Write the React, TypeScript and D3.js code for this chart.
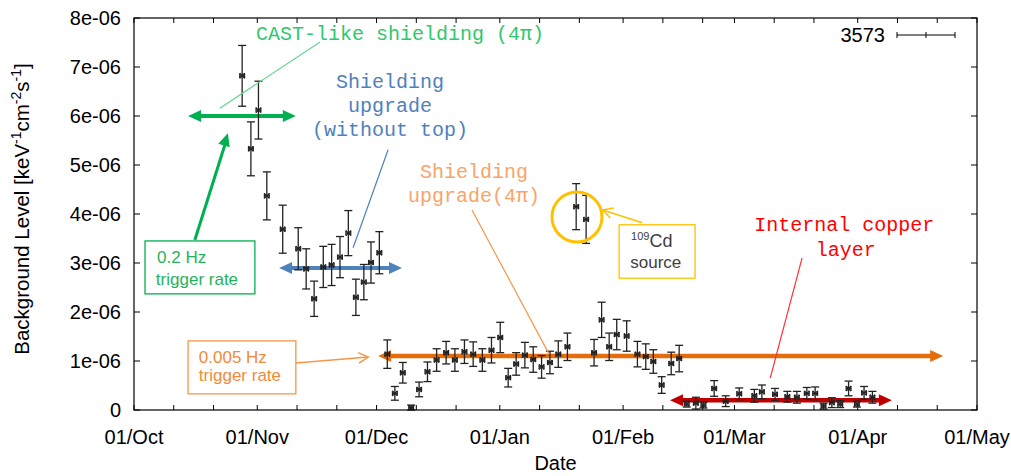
import React from 'react';
import * as d3 from 'd3';

// ---- Data (days since 01/Oct, background level in units of 1e-6, error in 1e-6) ----
const DAYS = [
  27.2, 29.4, 31.3, 33.4, 37.4, 41.3, 43.3, 45.3, 47.6, 49.7, 51.8, 53.9, 55.8, 57.8, 59.6, 61.7,
  63.7, 65.6, 67.6, 69.7, 71.7, 73.8, 76.1, 78.5, 80.7, 83.1, 85.3, 87.6, 89.9, 92.1, 94.1, 96.1,
  98.3, 100.4, 102.5, 104.6, 106.7, 109.0, 111.2, 113.7, 115.7, 117.6, 119.5, 121.4, 123.9, 126.6,
  128.7, 130.6, 132.7, 135.1, 137.1,
  139.0, 141.3, 143.2, 145.9, 148.8, 152.2, 156.0, 157.9, 161.2, 164.3, 166.7, 169.2, 171.3, 173.4,
  175.5, 177.6, 179.7, 181.8, 183.6, 185.7,
];
const VALUES = [
  6.82, 5.33, 6.12, 4.37, 3.69, 3.29, 2.88, 2.27, 2.92, 2.96, 3.12, 3.61, 2.30, 2.61, 3.01, 3.21,
  1.14, 0.34, 0.76, 0.05, 0.42, 0.78, 1.02, 1.17, 1.02, 1.19, 1.14, 1.02, 1.22, 1.48, 0.66, 0.94,
  1.12, 1.03, 0.88, 0.97, 1.14, 1.29, 4.15, 3.89, 1.17, 1.84, 1.29, 1.54, 1.51, 1.14,
  1.09, 0.99, 0.51, 0.95, 1.05,
  0.12, 0.14, 0.10, 0.44, 0.18, 0.33, 0.29, 0.37, 0.32, 0.27, 0.26, 0.34, 0.34, 0.08,
  0.15, 0.12, 0.44, 0.12, 0.35, 0.26,
];
const ERRORS = [
  0.62, 0.55, 0.59, 0.49, 0.49, 0.43, 0.41, 0.36, 0.42, 0.42, 0.42, 0.46, 0.37, 0.36, 0.42, 0.43,
  0.29, 0.14, 0.21, 0.05, 0.15, 0.20, 0.23, 0.23, 0.23, 0.24, 0.25, 0.23, 0.26, 0.31, 0.19, 0.23,
  0.26, 0.26, 0.23, 0.23, 0.27, 0.28, 0.47, 0.49, 0.27, 0.36, 0.28, 0.31, 0.31, 0.26,
  0.26, 0.24, 0.17, 0.23, 0.27,
  0.06, 0.12, 0.06, 0.16, 0.11, 0.12, 0.13, 0.14, 0.12, 0.11, 0.12, 0.12, 0.13, 0.06,
  0.10, 0.07, 0.15, 0.06, 0.13, 0.12,
];
const X_ERR_DAYS = 0.6;
const UNIT = 1e-6;
const Y_TICKS = [0, 1, 2, 3, 4, 5, 6, 7, 8];
const Y_TICK_LABELS = ['0', '1e-06', '2e-06', '3e-06', '4e-06', '5e-06', '6e-06', '7e-06', '8e-06'];
const MINOR_DAYS_OF_MONTH = [11, 21];
const LEGEND_LABEL = '3573';
const X_TITLE = 'Date';

// ---- Layout ----
const W = 1011, H = 476;
const PL = 134, PR = 977, PT = 18, PB = 410;
const START = new Date(Date.UTC(2012, 9, 1));
const END = new Date(Date.UTC(2013, 4, 1));

const x = d3.scaleUtc().domain([START, END]).range([PL, PR]);
const y = d3.scaleLinear().domain([0, 8 * UNIT]).range([PB, PT]);
const dd = (d: number) => new Date(START.getTime() + d * 864e5);
const X = (d: number) => x(dd(d));
const Y = (v: number) => y(v * UNIT);

const SANS = 'Liberation Sans, Arial, sans-serif';
const MONO = 'Liberation Mono, Courier New, monospace';

function head(x1: number, y1: number, x2: number, y2: number, len: number, hw: number) {
  const a = Math.atan2(y2 - y1, x2 - x1);
  const bx = x2 - len * Math.cos(a), by = y2 - len * Math.sin(a);
  const px = -Math.sin(a) * hw, py = Math.cos(a) * hw;
  return `${x2},${y2} ${bx + px},${by + py} ${bx - px},${by - py}`;
}

function DoubleArrow({ d1, d2, v, color, w = 4 }: any) {
  const x1 = X(d1), x2 = X(d2), yy = Y(v);
  const len = 13, hw = 6;
  return (
    <g>
      <line x1={x1 + len - 2} y1={yy} x2={x2 - len + 2} y2={yy} stroke={color} strokeWidth={w} />
      <polygon points={head(x2, yy, x1, yy, len, hw)} fill={color} />
      <polygon points={head(x1, yy, x2, yy, len, hw)} fill={color} />
    </g>
  );
}

function OpenArrow({ a, b, color, w = 1.5 }: any) {
  const x1 = X(a[0]), y1 = Y(a[1]), x2 = X(b[0]), y2 = Y(b[1]);
  const ang = Math.atan2(y2 - y1, x2 - x1);
  const L = 11, s = 0.5;
  const p1 = [x2 - L * Math.cos(ang - s), y2 - L * Math.sin(ang - s)];
  const p2 = [x2 - L * Math.cos(ang + s), y2 - L * Math.sin(ang + s)];
  return (
    <g stroke={color} strokeWidth={w} fill="none">
      <line x1={x1} y1={y1} x2={x2} y2={y2} />
      <polyline points={`${p1[0]},${p1[1]} ${x2},${y2} ${p2[0]},${p2[1]}`} />
    </g>
  );
}

function Box({ a, b, color }: any) {
  const x1 = X(a[0]), y1 = Y(a[1]), x2 = X(b[0]), y2 = Y(b[1]);
  return <rect x={x1} y={y1} width={x2 - x1} height={y2 - y1} fill="white" stroke={color} strokeWidth={1.3} />;
}

export default function App() {
  const months = d3.utcMonth.range(START, d3.utcDay.offset(END, 1));
  const minor: Date[] = [];
  d3.utcMonth.range(START, END).forEach((m) => {
    MINOR_DAYS_OF_MONTH.forEach((k) => minor.push(new Date(Date.UTC(m.getUTCFullYear(), m.getUTCMonth(), k))));
  });
  const fmt = d3.utcFormat('%d/%b');
  const tl = 5;

  const pts = DAYS.map((d, i) => ({ d, v: VALUES[i], e: ERRORS[i] }));

  return (
    <svg width={W} height={H} style={{ position: 'absolute', left: 0, top: 0, background: 'white' }}
      fontFamily={SANS}>
      <rect x={0} y={0} width={W} height={H} fill="white" />

      {/* ticks */}
      <g stroke="#000" strokeWidth={1}>
        {Y_TICKS.map((t) => (
          <g key={'y' + t}>
            <line x1={PL} x2={PL + 6} y1={Y(t)} y2={Y(t)} />
            <line x1={PR} x2={PR - 6} y1={Y(t)} y2={Y(t)} />
          </g>
        ))}
        {[...months, ...minor].map((m, i) => (
          <g key={'x' + i}>
            <line x1={x(m)} x2={x(m)} y1={PB} y2={PB - tl} />
            <line x1={x(m)} x2={x(m)} y1={PT} y2={PT + tl} />
          </g>
        ))}
      </g>

      {/* tick labels */}
      <g fontSize={20} fill="#000">
        {Y_TICKS.map((t, i) => (
          <text key={'yl' + t} x={PL - 13} y={Y(t) + 7} textAnchor="end">{Y_TICK_LABELS[i]}</text>
        ))}
        {months.map((m, i) => (
          <text key={'xl' + i} x={x(m)} y={444} textAnchor="middle">{fmt(m)}</text>
        ))}
      </g>
      <text x={(PL + PR) / 2} y={470} textAnchor="middle" fontSize={20}>{X_TITLE}</text>
      <text transform={`translate(29,209) rotate(-90)`} textAnchor="middle" fontSize={20.5}>
        Background Level [keV<tspan dy={-8} fontSize={14}>-1</tspan>
        <tspan dy={8}>cm</tspan><tspan dy={-8} fontSize={14}>-2</tspan>
        <tspan dy={8}>s</tspan><tspan dy={-8} fontSize={14}>-1</tspan><tspan dy={8}>]</tspan>
      </text>

      {/* legend */}
      <text x={885} y={42} textAnchor="end" fontSize={20}>{LEGEND_LABEL}</text>
      <g stroke="#000" strokeWidth={1}>
        <line x1={897} x2={955} y1={35} y2={35} />
        <line x1={897} x2={897} y1={32} y2={38} />
        <line x1={955} x2={955} y1={32} y2={38} />
        <line x1={926} x2={926} y1={32} y2={38} />
      </g>

      {/* annotations behind */}
      <DoubleArrow d1={61.4} d2={203.5} v={1.1} color="#e46c0a" w={4.5} />
      <DoubleArrow d1={134.8} d2={190.6} v={0.2} color="#c00000" w={4.5} />
      <DoubleArrow d1={36.5} d2={67.4} v={2.9} color="#4f81bd" w={4} />
      <DoubleArrow d1={13.6} d2={40.7} v={6.0} color="#00b050" w={4} />

      {/* data */}
      <g stroke="#222" strokeWidth={1.3} fill="none">
        {pts.map((p, i) => {
          const cx = X(p.d), cy = Y(p.v);
          const yt = Y(p.v + p.e), yb = Y(Math.max(0, p.v - p.e));
          const xl = X(p.d - X_ERR_DAYS), xr = X(p.d + X_ERR_DAYS);
          return (
            <g key={i}>
              <line x1={cx} x2={cx} y1={yt} y2={yb} />
              <line x1={cx - 4} x2={cx + 4} y1={yt} y2={yt} />
              <line x1={cx - 4} x2={cx + 4} y1={yb} y2={yb} />
              <line x1={xl} x2={xr} y1={cy} y2={cy} />
              <line x1={xl} x2={xl} y1={cy - 2.5} y2={cy + 2.5} />
              <line x1={xr} x2={xr} y1={cy - 2.5} y2={cy + 2.5} />
              <path d={`M${cx - 2.5},${cy - 2.5}L${cx + 2.5},${cy + 2.5}M${cx - 2.5},${cy + 2.5}L${cx + 2.5},${cy - 2.5}`} />
            </g>
          );
        })}
      </g>

      {/* green annotations */}
      <text x={X(66.9)} y={Y(7.55)} textAnchor="middle" fontFamily={MONO} fontSize={20} fill="#2ec86e">CAST-like shielding (4π)</text>
      <line x1={X(21.6)} y1={Y(6.16)} x2={X(46.8)} y2={Y(7.51)} stroke="#5fd68f" strokeWidth={1.2} />
      <line x1={X(15.3)} y1={Y(3.47)} x2={X(23.2)} y2={Y(5.5)} stroke="#00b050" strokeWidth={3} />
      <polygon points={head(X(15.3), Y(3.47), X(23.6), Y(5.65), 13, 6)} fill="#00b050" />
      <Box a={[2.77, 3.45]} b={[30.4, 2.37]} color="#00b050" />
      <g fontSize={17} fill="#1fb35c">
        <text x={X(5.8)} y={Y(3.0)}>0.2 Hz</text>
        <text x={X(5.5)} y={Y(2.55)}>trigger rate</text>
      </g>

      {/* blue annotations */}
      <g fontFamily={MONO} fontSize={20} fill="#4f81bd" textAnchor="middle">
        <text x={X(64.4)} y={Y(6.57)}>Shielding</text>
        <text x={X(64.4)} y={Y(6.08)}>upgrade</text>
        <text x={X(64.4)} y={Y(5.59)}>(without top)</text>
      </g>
      <line x1={X(55.1)} y1={Y(3.31)} x2={X(63.9)} y2={Y(5.31)} stroke="#4f81bd" strokeWidth={1.2} />

      {/* orange annotations */}
      <g fontFamily={MONO} fontSize={20} fill="#f9a46a" textAnchor="middle">
        <text x={X(85.5)} y={Y(4.73)}>Shielding</text>
        <text x={X(85.5)} y={Y(4.24)}>upgrade(4π)</text>
      </g>
      <line x1={X(85.0)} y1={Y(4.08)} x2={X(104.4)} y2={Y(1.14)} stroke="#f79646" strokeWidth={1.2} />
      <OpenArrow a={[40.7, 0.96]} b={[58.9, 1.08]} color="#f79646" w={1.5} />
      <Box a={[13.6, 1.41]} b={[40.7, 0.33]} color="#f79646" />
      <g fontSize={17} fill="#f08a3c">
        <text x={X(16.3)} y={Y(0.96)}>0.005 Hz</text>
        <text x={X(16.3)} y={Y(0.59)}>trigger rate</text>
      </g>

      {/* Cd source */}
      <circle cx={X(111.4)} cy={Y(3.94)} r={25} fill="none" stroke="#ffc000" strokeWidth={3} />
      <OpenArrow a={[127.8, 3.82]} b={[117.9, 4.08]} color="#ffc000" w={1.5} />
      <Box a={[122.0, 3.78]} b={[141.1, 2.69]} color="#ffc000" />
      <g fill="#404040">
        <text x={X(125)} y={Y(3.33)}>
          <tspan fontSize={11} dy={-7}>109</tspan><tspan fontSize={18} dy={7}>Cd</tspan>
        </text>
        <text x={X(124.8)} y={Y(2.9)} fontSize={17}>source</text>
      </g>

      {/* red annotations */}
      <g fontFamily={MONO} fontSize={20} fill="#ff0000" textAnchor="middle">
        <text x={X(178.6)} y={Y(3.65)}>Internal copper</text>
        <text x={X(179.0)} y={Y(3.14)}>layer</text>
      </g>
      <line x1={X(168.0)} y1={Y(3.1)} x2={X(160.0)} y2={Y(0.65)} stroke="#ff3030" strokeWidth={1.2} />

      {/* frame */}
      <rect x={PL} y={PT} width={PR - PL} height={PB - PT} fill="none" stroke="#000" strokeWidth={1.2} />
    </svg>
  );
}
